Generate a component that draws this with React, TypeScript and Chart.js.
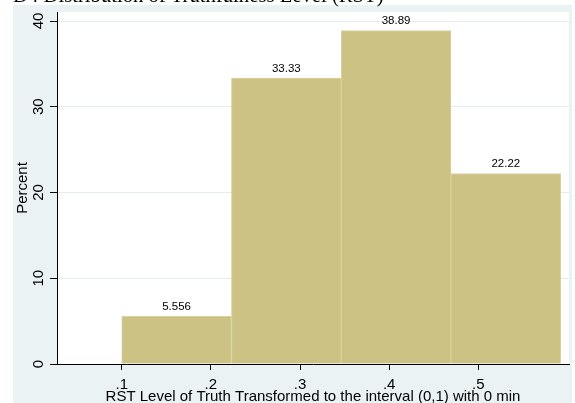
import { useEffect, useRef } from 'react';
import { Chart, registerables } from 'chart.js';

Chart.register(...registerables);

const chartTitle = 'D4 Distribution of Truthfulness Level (RST)';
const xAxisTitle = 'RST Level of Truth Transformed to the interval (0,1) with 0 min';
const yAxisTitle = 'Percent';

const binEdges = [0.1, 0.2231, 0.3462, 0.4693, 0.5924];
const percents = [5.556, 33.33, 38.89, 22.22];
const valueLabels = ['5.556', '33.33', '38.89', '22.22'];

const xTickValues = [0.1, 0.2, 0.3, 0.4, 0.5];
const xTickLabels = ['.1', '.2', '.3', '.4', '.5'];
const yTickValues = [0, 10, 20, 30, 40];
const yTickLabels = ['0', '10', '20', '30', '40'];

const xMin = 0.0274;
const xMax = 0.6017;
const yMin = 0;
const yMax = 41.05;

const FONT_FAMILY = '"Liberation Sans", Arial, sans-serif';
const OUTER_BG = '#eaf2f3';
const BAR_FILL = '#cbc283';
const BAR_EDGE = '#d9d2a0';
const GRID = '#e3edf0';

const backgroundPlugin = {
  id: 'stataBackground',
  beforeDraw(chart: any) {
    const { ctx, chartArea, width, height } = chart;
    ctx.save();
    ctx.fillStyle = '#ffffff';
    ctx.fillRect(0, 0, width, height);
    ctx.fillStyle = OUTER_BG;
    ctx.fillRect(13, 5, width - 16, height - 5);
    ctx.fillStyle = '#ffffff';
    ctx.fillRect(chartArea.left, chartArea.top, chartArea.right - chartArea.left, chartArea.bottom - chartArea.top);
    ctx.restore();
  },
};

const valueLabelPlugin = {
  id: 'valueLabels',
  afterDatasetsDraw(chart: any) {
    const { ctx } = chart;
    const meta = chart.getDatasetMeta(0);
    ctx.save();
    ctx.fillStyle = '#000000';
    ctx.font = `11.5px ${FONT_FAMILY}`;
    ctx.textAlign = 'center';
    ctx.textBaseline = 'bottom';
    meta.data.forEach((bar: any, i: number) => {
      ctx.fillText(valueLabels[i], bar.x, bar.y - 4);
    });
    ctx.restore();
  },
};

export default function App() {
  const canvasRef = useRef<HTMLCanvasElement | null>(null);

  useEffect(() => {
    const canvas = canvasRef.current;
    if (!canvas) return;
    const centers = percents.map((_, i) => (binEdges[i] + binEdges[i + 1]) / 2);
    const font = { family: FONT_FAMILY, size: 15 };

    const chart = new Chart(canvas, {
      type: 'bar',
      data: {
        datasets: [
          {
            data: centers.map((c, i) => ({ x: c, y: percents[i] })) as any,
            backgroundColor: BAR_FILL,
            borderColor: BAR_EDGE,
            borderWidth: 1,
            barThickness: 'flex',
            barPercentage: 1,
            categoryPercentage: 1,
          },
        ],
      },
      options: {
        animation: false,
        responsive: false,
        devicePixelRatio: 1,
        layout: { padding: { left: 0, right: 6, top: 11, bottom: 0 } },
        plugins: {
          legend: { display: false },
          tooltip: { enabled: false },
          title: { display: false },
        },
        scales: {
          x: {
            type: 'linear',
            offset: false,
            min: xMin,
            max: xMax,
            afterBuildTicks: (s: any) => {
              s.ticks = xTickValues.map((v) => ({ value: v }));
            },
            afterFit: (s: any) => {
              s.height = 39;
            },
            ticks: {
              callback: (v: any) => xTickLabels[xTickValues.indexOf(Number(v))],
              minRotation: 0,
              maxRotation: 0,
              autoSkip: false,
              font,
              color: '#000',
              padding: 6,
            },
            grid: { drawOnChartArea: false, tickLength: 6, tickColor: '#000', color: '#000', offset: false },
            border: { color: '#000', width: 1 },
            title: { display: true, text: xAxisTitle, font: { ...font, lineHeight: 1 }, color: '#000', padding: { top: 0, bottom: -1 } },
          },
          y: {
            type: 'linear',
            min: yMin,
            max: yMax,
            afterBuildTicks: (s: any) => {
              s.ticks = yTickValues.map((v) => ({ value: v }));
            },
            afterFit: (s: any) => {
              s.width = 57;
            },
            ticks: {
              callback: (v: any) => yTickLabels[yTickValues.indexOf(Number(v))],
              minRotation: 90,
              maxRotation: 90,
              crossAlign: 'center',
              autoSkip: false,
              font,
              color: '#000',
              padding: 3,
            },
            grid: { color: GRID, tickLength: 7, tickColor: '#000' },
            border: { color: '#000', width: 1 },
            title: { display: true, text: yAxisTitle, font, color: '#000', padding: { top: 14, bottom: 0 } },
          },
        },
      },
      plugins: [backgroundPlugin, valueLabelPlugin],
    } as any);

    return () => chart.destroy();
  }, []);

  return (
    <div
      style={{
        position: 'fixed',
        left: 0,
        top: 0,
        width: 575,
        height: 403,
        overflow: 'hidden',
        background: '#fff',
      }}
    >
      <canvas
        ref={canvasRef}
        width={575}
        height={403}
        style={{ position: 'absolute', left: 0, top: 0, width: 575, height: 403 }}
      />
      <div
        style={{
          position: 'absolute',
          left: 13,
          top: -15,
          fontFamily: '"Liberation Serif", "Times New Roman", serif',
          fontSize: 20.7,
          lineHeight: '21px',
          color: '#000',
          whiteSpace: 'nowrap',
        }}
      >
        {chartTitle}
      </div>
    </div>
  );
}
